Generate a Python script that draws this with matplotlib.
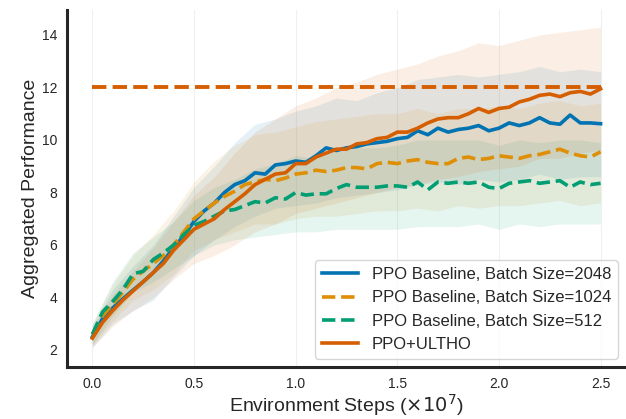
"""Aggregated performance vs environment steps: PPO batch sizes vs PPO+ULTHO."""

import matplotlib

matplotlib.use("Agg")
import matplotlib.pyplot as plt
import numpy as np

# mean curves, every 0.05e7 steps
steps = [i * 0.05 for i in range(51)]
ppo_2048 = [2.5, 3.2, 3.6, 3.95, 4.28, 4.6, 4.95, 5.4, 5.9, 6.35,
            6.9, 7.3, 7.6, 8.0, 8.3, 8.45, 8.75, 8.7, 9.05, 9.1,
            9.2, 9.15, 9.4, 9.7, 9.6, 9.7, 9.75, 9.85, 9.9, 9.95,
            10.05, 10.1, 10.35, 10.2, 10.45, 10.3, 10.4, 10.45, 10.55, 10.35,
            10.45, 10.65, 10.55, 10.65, 10.85, 10.65, 10.6, 10.95, 10.65, 10.65,
            10.62]
ppo_1024 = [2.6, 3.3, 3.75, 4.2, 4.7, 5.0, 5.3, 5.6, 6.0, 6.5,
            7.0, 7.3, 7.6, 7.85, 8.05, 8.3, 8.4, 8.5, 8.45, 8.55,
            8.7, 8.75, 8.85, 8.8, 8.85, 8.95, 8.95, 8.9, 9.1, 9.15,
            9.1, 9.2, 9.25, 9.15, 9.1, 9.1, 9.3, 9.35, 9.25, 9.3,
            9.4, 9.35, 9.3, 9.4, 9.45, 9.55, 9.65, 9.5, 9.4, 9.35,
            9.55]
ppo_512 = [2.6, 3.45, 3.85, 4.3, 4.9, 5.0, 5.45, 5.7, 6.0, 6.4,
           6.75, 6.9, 7.1, 7.3, 7.35, 7.5, 7.65, 7.6, 7.8, 7.75,
           8.0, 7.9, 7.95, 7.95, 8.15, 8.3, 8.2, 8.2, 8.2, 8.25,
           8.25, 8.2, 8.4, 8.1, 8.4, 8.35, 8.4, 8.35, 8.4, 8.2,
           8.15, 8.35, 8.4, 8.45, 8.35, 8.4, 8.45, 8.2, 8.4, 8.3,
           8.35]
ultho = [2.45, 3.05, 3.5, 3.9, 4.25, 4.6, 4.95, 5.3, 5.8, 6.2,
         6.6, 6.8, 7.0, 7.35, 7.65, 7.95, 8.3, 8.5, 8.7, 8.75,
         9.1, 9.1, 9.35, 9.5, 9.65, 9.65, 9.85, 9.9, 10.05, 10.1,
         10.3, 10.3, 10.45, 10.65, 10.8, 10.85, 10.85, 11.0, 11.2, 11.05,
         11.2, 11.25, 11.45, 11.55, 11.7, 11.75, 11.65, 11.8, 11.85, 11.75,
         11.95]
target = 12.0

# shaded bands, every 0.1e7 steps
band_steps = [i * 0.1 for i in range(26)]
lo_2048 = [2.1, 3.0, 3.5, 3.9, 4.8, 5.6, 6.2, 6.7, 7.1, 7.4, 7.5, 7.6, 7.8,
           7.9, 8.0, 8.1, 8.3, 8.4, 8.3, 8.5, 8.4, 8.5, 8.7, 8.5, 8.6, 8.6]
hi_2048 = [2.9, 4.3, 5.2, 6.0, 7.1, 8.2, 9.0, 9.9, 10.6, 10.8, 11.1, 11.3, 11.6,
           11.5, 11.8, 12.0, 12.3, 12.4, 12.5, 12.4, 12.5, 12.6, 12.8, 12.6, 12.7, 12.6]
lo_1024 = [2.2, 3.1, 3.9, 4.3, 4.9, 5.8, 6.2, 6.5, 6.8, 6.8, 7.0, 7.1, 7.1,
           7.2, 7.3, 7.3, 7.4, 7.3, 7.5, 7.4, 7.5, 7.5, 7.6, 7.7, 7.5, 7.6]
hi_1024 = [3.0, 4.5, 5.6, 6.4, 7.3, 8.4, 9.2, 9.8, 10.2, 10.3, 10.5, 10.7, 10.8,
           10.9, 11.0, 11.0, 11.2, 11.0, 11.2, 11.2, 11.3, 11.2, 11.4, 11.5, 11.3, 11.4]
lo_512 = [2.2, 3.3, 4.2, 4.6, 5.1, 5.6, 6.0, 6.2, 6.3, 6.4, 6.5, 6.5, 6.6,
          6.6, 6.6, 6.6, 6.7, 6.7, 6.7, 6.8, 6.6, 6.8, 6.7, 6.8, 6.8, 6.8]
hi_512 = [3.0, 4.6, 5.7, 6.3, 6.9, 7.7, 8.2, 8.5, 8.9, 9.1, 9.4, 9.3, 9.6,
          9.7, 9.7, 9.8, 10.0, 10.0, 10.0, 10.0, 9.8, 10.0, 9.9, 10.0, 10.0, 9.9]
lo_ultho = [2.1, 2.9, 3.5, 4.0, 4.7, 5.3, 5.6, 6.0, 6.5, 6.8, 7.2, 7.4, 7.6,
            7.8, 8.0, 8.2, 8.3, 8.5, 8.6, 8.8, 8.9, 9.0, 9.3, 9.3, 9.5, 9.6]
hi_ultho = [2.8, 4.1, 5.0, 5.9, 6.9, 7.9, 8.6, 9.5, 10.3, 10.8, 11.3, 11.6, 12.0,
            12.2, 12.5, 12.7, 12.9, 13.2, 13.4, 13.7, 13.6, 13.8, 14.0, 14.1, 14.2, 14.3]

labels = ["PPO Baseline, Batch Size=2048", "PPO Baseline, Batch Size=1024",
          "PPO Baseline, Batch Size=512", "PPO+ULTHO"]
colors = ["#0173b2", "#de8f05", "#029e73", "#d55e00"]
styles = ["-", "--", "--", "-"]

plt.rcParams["font.family"] = ["Liberation Sans", "DejaVu Sans"]
plt.rcParams["mathtext.fontset"] = "dejavusans"

fig = plt.figure(figsize=(6.26, 4.19), dpi=100)
ax = fig.add_axes([0.107, 0.124, 0.893, 0.852])

bands = [(lo_2048, hi_2048), (lo_1024, hi_1024), (lo_512, hi_512), (lo_ultho, hi_ultho)]
for (lo, hi), c in zip(bands, colors):
    ax.fill_between(band_steps, lo, hi, color=c, alpha=0.1, lw=0)

ax.hlines(target, steps[0], steps[-1], colors=colors[3], linestyles="--", lw=2.8)

means = [ppo_2048, ppo_1024, ppo_512, ultho]
for y, c, ls, lab in zip(means, colors, styles, labels):
    ax.plot(steps, y, color=c, ls=ls, lw=2.6, label=lab)

ax.set_xlim(-0.125, 2.625)
ax.set_ylim(1.35, 14.95)
ax.set_xticks([0.0, 0.5, 1.0, 1.5, 2.0, 2.5])
ax.set_yticks([2, 4, 6, 8, 10, 12, 14])
ax.tick_params(length=0, labelsize=10, colors="#262626", pad=7)
ax.grid(axis="x", color="#f0f0f0", lw=0.8)
ax.set_axisbelow(True)
for s in ["top", "right"]:
    ax.spines[s].set_visible(False)
for s in ["left", "bottom"]:
    ax.spines[s].set_linewidth(2.2)
    ax.spines[s].set_color("#262626")

ax.set_xlabel(r"Environment Steps ($\times 10^7$)", fontsize=14, color="#262626",
              labelpad=1)
ax.set_ylabel("Aggregated Performance", fontsize=14, color="#262626", labelpad=2)
ax.legend(loc="lower right", fontsize=12, frameon=True, handlelength=2.2,
          labelcolor="#262626", borderaxespad=0.5)

fig.savefig("out.png", dpi=100)
